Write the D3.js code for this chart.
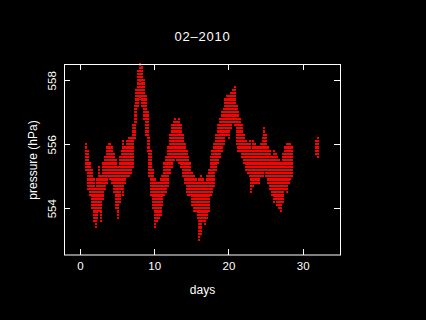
<!DOCTYPE html>
<html>
<head>
<meta charset="utf-8">
<script src="https://cdn.jsdelivr.net/npm/d3@7"></script>
<style>
  html, body { margin: 0; padding: 0; background: #000; }
  svg { display: block; }
</style>
</head>
<body>
<svg width="426" height="320"></svg>
<script>
// pressure readings, grouped every 6 h: lowest and highest value in each group
var days = [0.85, 1.1, 1.35, 1.6, 1.85, 2.1, 2.35, 2.6, 2.85, 3.1, 3.35, 3.6, 3.85, 4.1, 4.35, 4.6, 4.85,
  5.1, 5.35, 5.6, 5.85, 6.1, 6.35, 6.6, 6.85, 7.1, 7.35, 7.6, 7.85, 8.1, 8.35, 8.6, 8.85,
  9.1, 9.35, 9.6, 9.85, 10.1, 10.35, 10.6, 10.85, 11.1, 11.35, 11.6, 11.85, 12.1, 12.35, 12.6, 12.85,
  13.1, 13.35, 13.6, 13.85, 14.1, 14.35, 14.6, 14.85, 15.1, 15.35, 15.6, 15.85, 16.1, 16.35, 16.6, 16.85,
  17.1, 17.35, 17.6, 17.85, 18.1, 18.35, 18.6, 18.85, 19.1, 19.35, 19.6, 19.85, 20.1, 20.35, 20.6, 20.85,
  21.1, 21.35, 21.6, 21.85, 22.1, 22.35, 22.6, 22.85, 23.1, 23.35, 23.6, 23.85, 24.1, 24.35, 24.6, 24.85,
  25.1, 25.35, 25.6, 25.85, 26.1, 26.35, 26.6, 26.85, 27.1, 27.35, 27.6, 27.85, 28.1, 28.35, 28.6,
  31.85, 32.05];
var pLow = [555.2, 554.6, 554.4, 554.0, 553.6, 553.4, 553.7, 553.9, 553.6, 554.3, 554.6, 554.8, 555.0, 554.9, 554.8, 554.5, 554.0,
  553.7, 554.2, 554.6, 554.4, 554.8, 555.0, 555.0, 555.1, 555.3, 556.2, 556.7, 557.2, 557.4, 557.2, 556.8, 556.3,
  555.8, 555.0, 554.4, 554.0, 553.4, 553.6, 553.7, 553.8, 554.1, 554.4, 554.5, 554.7, 555.1, 555.3, 555.5, 555.6,
  555.5, 555.4, 555.3, 555.0, 554.8, 554.5, 554.4, 554.4, 554.1, 553.9, 553.9, 553.7, 553.0, 553.2, 553.6, 553.5,
  553.7, 553.9, 554.4, 554.5, 554.7, 555.2, 555.4, 555.6, 555.8, 556.0, 556.3, 556.3, 556.2, 556.5, 556.7, 556.6,
  556.0, 555.8, 555.8, 555.6, 555.4, 555.2, 555.1, 555.0, 554.5, 554.7, 554.8, 554.8, 554.8, 555.0, 555.0, 555.2,
  555.0, 554.8, 554.6, 554.4, 554.2, 554.3, 554.1, 554.0, 553.9, 554.2, 554.6, 554.5, 554.8, 554.9, 555.0,
  555.7, 555.6];
var pHigh = [556.0, 555.8, 555.4, 555.2, 554.9, 554.6, 554.9, 555.3, 555.0, 555.4, 555.6, 555.9, 556.0, 556.0, 555.9, 555.7, 555.5,
  555.3, 555.6, 555.8, 556.1, 555.9, 556.1, 556.2, 556.2, 556.6, 557.2, 557.7, 558.3, 558.5, 558.4, 558.0, 557.5,
  557.0, 556.2, 555.8, 555.2, 554.9, 554.8, 554.8, 554.9, 555.0, 555.4, 555.6, 555.9, 556.3, 556.6, 556.7, 556.8,
  556.7, 556.8, 556.6, 556.3, 556.0, 555.8, 555.6, 555.4, 555.1, 555.0, 554.9, 554.8, 554.9, 555.0, 554.9, 554.8,
  555.0, 555.2, 555.6, 555.8, 556.0, 556.3, 556.6, 556.8, 557.0, 557.1, 557.4, 557.5, 557.5, 557.6, 557.7, 557.8,
  557.2, 557.0, 556.8, 556.6, 556.3, 556.1, 556.0, 556.1, 555.8, 556.1, 556.0, 555.9, 555.9, 556.0, 556.2, 556.5,
  556.3, 555.9, 555.8, 555.6, 555.8, 555.7, 555.6, 555.5, 555.4, 555.7, 555.9, 556.0, 556.0, 556.0, 555.9,
  556.1, 556.2];
var xTicks = [0, 10, 20, 30];
var yTicks = [554, 556, 558];

var svg = d3.select("svg");

var x = d3.scaleLinear().domain([-2.156, 35.1]).range([64, 340.5]);
var y = d3.scaleLinear().domain([552.53, 558.5]).range([255.3, 64.3]);

svg.append("rect")
  .attr("width", 426).attr("height", 320)
  .attr("fill", "#000");

// readings
svg.append("g")
  .selectAll("line")
  .data(days)
  .enter()
  .append("line")
    .attr("x1", function(d) { return x(d); })
    .attr("x2", function(d) { return x(d); })
    .attr("y1", function(d, i) { return y(pHigh[i]) - 1; })
    .attr("y2", function(d, i) { return y(pLow[i]) + 1; })
    .attr("stroke", "#ff0000")
    .attr("stroke-width", 2)
    .attr("stroke-dasharray", "2.2,1")
    .attr("shape-rendering", "crispEdges");

// axes, ticks pointing inward on all four sides
function styleAxis(g) {
  g.select(".domain").remove();
  g.selectAll("line").attr("stroke", "#fff").attr("shape-rendering", "crispEdges");
  g.selectAll("text")
    .attr("fill", "#fff")
    .style("font-family", "'Liberation Sans', Arial, sans-serif")
    .style("font-size", "11.5px");
}

svg.append("g")
  .attr("transform", "translate(0,255)")
  .call(d3.axisBottom(x).tickValues(xTicks).tickSize(-6).tickPadding(7).tickFormat(d3.format("d")))
  .call(styleAxis);

svg.append("g")
  .attr("transform", "translate(0,64)")
  .call(d3.axisTop(x).tickValues(xTicks).tickSize(-6).tickFormat(""))
  .call(styleAxis);

var yAxis = svg.append("g")
  .attr("transform", "translate(64,0)")
  .call(d3.axisLeft(y).tickValues(yTicks).tickSize(-6).tickFormat(d3.format("d")))
  .call(styleAxis);

yAxis.selectAll("text")
  .attr("x", null).attr("dy", null)
  .attr("text-anchor", "middle")
  .attr("transform", "translate(-8,0) rotate(-90)");

svg.append("g")
  .attr("transform", "translate(340,0)")
  .call(d3.axisRight(y).tickValues(yTicks).tickSize(-6).tickFormat(""))
  .call(styleAxis);

svg.append("rect")
  .attr("x", 64.5).attr("y", 64.5)
  .attr("width", 276).attr("height", 190.5)
  .attr("fill", "none")
  .attr("stroke", "#fff");

// labels
var font = "'Liberation Sans', Arial, sans-serif";

svg.append("text")
  .attr("x", 202.5).attr("y", 41)
  .attr("text-anchor", "middle")
  .attr("fill", "#fff")
  .style("font-family", font)
  .style("font-size", "13px")
  .style("letter-spacing", "0.8px")
  .text("02\u20132010");

svg.append("text")
  .attr("x", 202.5).attr("y", 293.5)
  .attr("text-anchor", "middle")
  .attr("fill", "#fff")
  .style("font-family", font)
  .style("font-size", "12px")
  .text("days");

svg.append("text")
  .attr("transform", "translate(37,160) rotate(-90)")
  .attr("text-anchor", "middle")
  .attr("fill", "#fff")
  .style("font-family", font)
  .style("font-size", "12px")
  .text("pressure (hPa)");
</script>
</body>
</html>
